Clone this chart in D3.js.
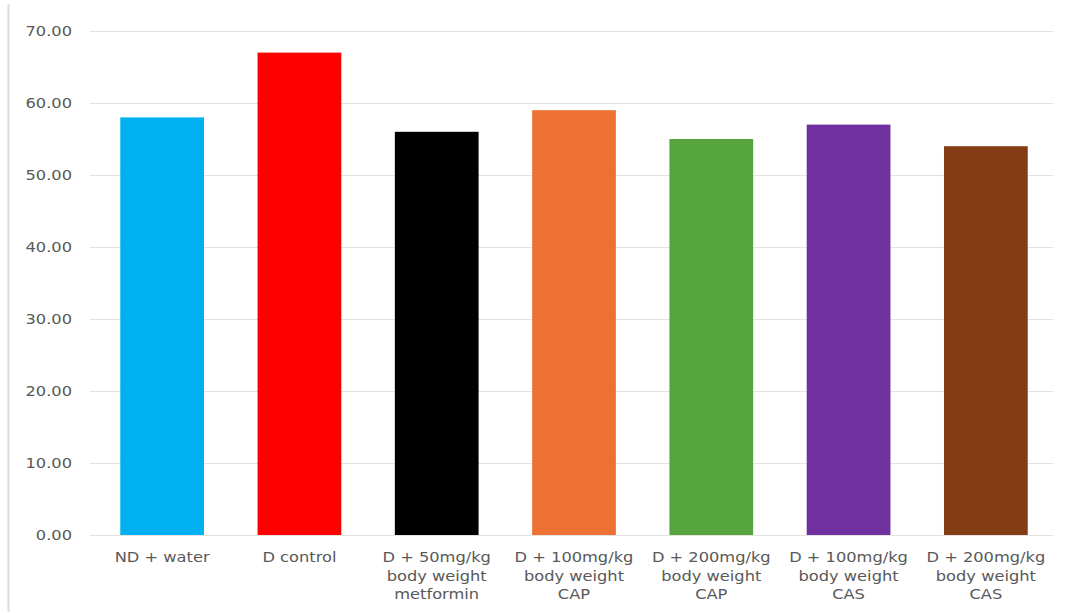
<!DOCTYPE html>
<html>
<head>
<meta charset="utf-8">
<script src="https://cdn.jsdelivr.net/npm/d3@7"></script>
<style>
  html, body { margin: 0; padding: 0; background: #ffffff; }
  svg { display: block; }
  text { font-family: "DejaVu Sans", sans-serif; fill: #595959; }
</style>
</head>
<body>
<svg id="chart" width="1065" height="613"></svg>
<script>
const categories = [
  ["ND + water"],
  ["D control"],
  ["D + 50mg/kg", "body weight", "metformin"],
  ["D + 100mg/kg", "body weight", "CAP"],
  ["D + 200mg/kg", "body weight", "CAP"],
  ["D + 100mg/kg", "body weight", "CAS"],
  ["D + 200mg/kg", "body weight", "CAS"]
];
const values = [58, 67, 56, 59, 55, 57, 54];
const colors = ["#00b0f0", "#ff0000", "#000000", "#ed7133", "#56a43c", "#7030a0", "#843c14"];
const yTicks = [0, 10, 20, 30, 40, 50, 60, 70];

const svg = d3.select("#chart");
const W = 1065, H = 613;
const keys = categories.map((c, i) => i);

const x = d3.scaleBand().domain(keys).range([93.5, 1054.5]).paddingInner(0.39).paddingOuter(0.195);
const y = d3.scaleLinear().domain([0, 70]).range([535, 31]);

// left border line
svg.append("line")
  .attr("x1", 8.5).attr("x2", 8.5).attr("y1", 4).attr("y2", 612)
  .attr("stroke", "#dcdcdc").attr("stroke-width", 2);

// gridlines
svg.append("g").selectAll("line").data(yTicks).join("line")
  .attr("x1", 90).attr("x2", 1053)
  .attr("y1", d => y(d) + 0.5).attr("y2", d => y(d) + 0.5)
  .attr("stroke", "#e3e3e3").attr("stroke-width", 1.2);

// y axis labels
const yAxis = d3.axisLeft(y).tickValues(yTicks).tickFormat(d3.format(".2f")).tickSize(0).tickPadding(0);
const ya = svg.append("g").attr("transform", "translate(72,0)").call(yAxis);
ya.select(".domain").remove();
ya.selectAll("text")
  .style("font-family", "DejaVu Sans, sans-serif")
  .style("font-size", "14px")
  .attr("fill", "#595959");

// bars
svg.append("g").selectAll("rect").data(values).join("rect")
  .attr("x", (d, i) => x(i))
  .attr("width", x.bandwidth())
  .attr("y", d => y(d))
  .attr("height", d => y(0) - y(d))
  .attr("fill", (d, i) => colors[i]);

// category labels
const lab = svg.append("g").selectAll("text").data(categories).join("text")
  .attr("text-anchor", "middle")
  .style("font-size", "14px");
lab.each(function(lines, i) {
  const t = d3.select(this);
  lines.forEach((l, j) => {
    t.append("tspan")
      .attr("x", x(i) + x.bandwidth() / 2)
      .attr("y", 562 + j * 18.5)
      .text(l);
  });
});

// widen glyphs to match reference
const stretch = 1.16;
svg.selectAll("text").each(function() {
  const el = this;
  const spans = el.querySelectorAll("tspan");
  if (spans.length) {
    spans.forEach(s => {
      const w = s.getComputedTextLength();
      s.setAttribute("textLength", w * stretch);
      s.setAttribute("lengthAdjust", "spacingAndGlyphs");
    });
  } else {
    const w = el.getComputedTextLength();
    el.setAttribute("textLength", w * stretch);
    el.setAttribute("lengthAdjust", "spacingAndGlyphs");
  }
});
</script>
</body>
</html>
